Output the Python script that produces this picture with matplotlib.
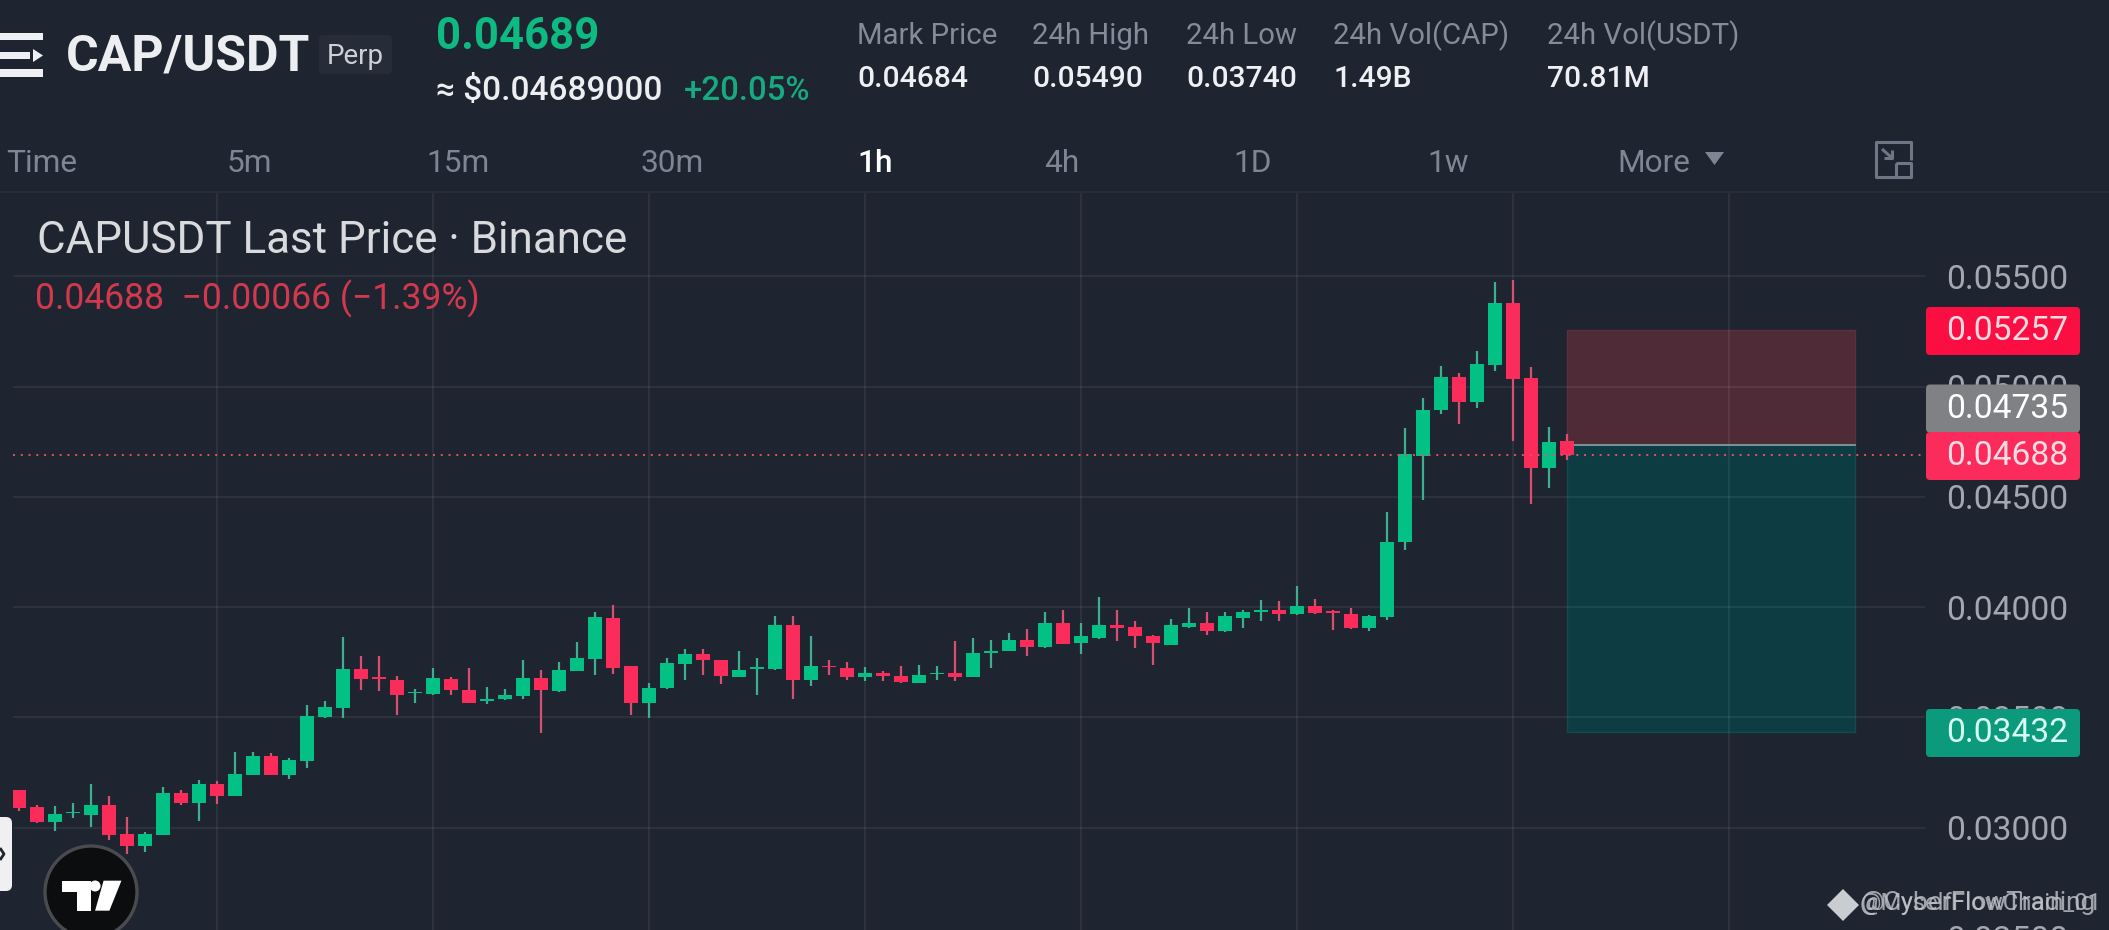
import matplotlib
matplotlib.use("Agg")
import matplotlib.pyplot as plt
from matplotlib.patches import FancyBboxPatch, Polygon, Circle, Rectangle
from matplotlib.lines import Line2D
from matplotlib.transforms import IdentityTransform

W, H = 2109, 930
BG = "#1e2430"
GREEN = "#03c084"
RED = "#fb2c59"
plt.rcParams["font.family"] = ["Roboto", "DejaVu Sans"]

opens = [
 0.03168,0.03095,0.03026,0.03065,0.03057,0.03103,0.02971,0.02918,0.02967,0.03156,
 0.03112,0.03198,0.03142,0.03240,0.03325,0.03239,0.03303,0.03502,0.03543,0.03720,
 0.03682,0.03670,0.03610,0.03605,0.03673,0.03625,0.03572,0.03581,0.03598,0.03678,
 0.03619,0.03711,0.03765,0.03950,0.03731,0.03566,0.03632,0.03744,0.03788,0.03761,
 0.03685,0.03719,0.03717,0.03921,0.03667,0.03735,0.03722,0.03681,0.03703,0.03688,
 0.03657,0.03696,0.03699,0.03682,0.03791,0.03800,0.03849,0.03821,0.03926,0.03835,
 0.03858,0.03921,0.03908,0.03871,0.03829,0.03911,0.03926,0.03893,0.03949,0.03976,
 0.03989,0.03967,0.04003,0.03982,0.03970,0.03903,0.03953,0.04294,0.04687,0.04894,
 0.05043,0.04930,0.05097,0.05378,0.05039,0.04633,0.04754]
closes = [
 0.03088,0.03023,0.03062,0.03071,0.03103,0.02967,0.02917,0.02971,0.03157,0.03110,
 0.03198,0.03144,0.03243,0.03325,0.03240,0.03307,0.03507,0.03548,0.03720,0.03676,
 0.03676,0.03599,0.03616,0.03679,0.03622,0.03567,0.03584,0.03601,0.03679,0.03622,
 0.03716,0.03769,0.03956,0.03725,0.03567,0.03634,0.03746,0.03788,0.03759,0.03687,
 0.03716,0.03726,0.03921,0.03669,0.03731,0.03729,0.03681,0.03703,0.03687,0.03658,
 0.03694,0.03702,0.03685,0.03794,0.03802,0.03849,0.03821,0.03926,0.03834,0.03867,
 0.03921,0.03903,0.03867,0.03835,0.03917,0.03926,0.03890,0.03958,0.03980,0.03989,
 0.03967,0.04003,0.03971,0.03973,0.03903,0.03958,0.04295,0.04695,0.04894,0.05043,
 0.04930,0.05102,0.05378,0.05036,0.04633,0.04749,0.04688]
highs = [
 0.03171,0.03103,0.03098,0.03110,0.03198,0.03144,0.03047,0.02979,0.03183,0.03168,
 0.03215,0.03209,0.03342,0.03342,0.03336,0.03315,0.03555,0.03575,0.03865,0.03779,
 0.03779,0.03688,0.03629,0.03723,0.03682,0.03725,0.03637,0.03629,0.03758,0.03716,
 0.03752,0.03843,0.03977,0.04011,0.03734,0.03655,0.03769,0.03809,0.03808,0.03762,
 0.03803,0.03767,0.03958,0.03958,0.03871,0.03762,0.03749,0.03726,0.03710,0.03735,
 0.03738,0.03731,0.03844,0.03861,0.03849,0.03884,0.03899,0.03976,0.03985,0.03929,
 0.04044,0.03989,0.03935,0.03874,0.03947,0.03998,0.03976,0.03980,0.03988,0.04033,
 0.04026,0.04098,0.04039,0.03989,0.03997,0.03962,0.04431,0.04811,0.04947,0.05093,
 0.05060,0.05161,0.05477,0.05482,0.05088,0.04817,0.04785]
lows = [
 0.03077,0.03020,0.02986,0.03044,0.03004,0.02944,0.02880,0.02889,0.02965,0.03104,
 0.03029,0.03107,0.03141,0.03239,0.03239,0.03221,0.03272,0.03498,0.03498,0.03625,
 0.03619,0.03510,0.03566,0.03599,0.03599,0.03564,0.03561,0.03579,0.03584,0.03428,
 0.03613,0.03708,0.03691,0.03697,0.03510,0.03498,0.03629,0.03670,0.03690,0.03649,
 0.03684,0.03599,0.03716,0.03581,0.03644,0.03690,0.03669,0.03663,0.03663,0.03657,
 0.03654,0.03669,0.03663,0.03681,0.03722,0.03799,0.03776,0.03814,0.03831,0.03785,
 0.03856,0.03844,0.03814,0.03738,0.03828,0.03903,0.03874,0.03887,0.03903,0.03939,
 0.03939,0.03965,0.03970,0.03897,0.03902,0.03891,0.03941,0.04258,0.04487,0.04876,
 0.04832,0.04905,0.05072,0.04754,0.04470,0.04541,0.04668]

price_ticks = [0.025, 0.030, 0.035, 0.040, 0.045, 0.050, 0.055]
time_grid = [11, 23, 35, 47, 59, 71, 83, 95]
last_price = 0.04688
stop_price = 0.05257
entry_price = 0.04735
target_price = 0.03432
box_start, box_end = 86, 102

stats_names = ["Mark Price", "24h High", "24h Low", "24h Vol(CAP)", "24h Vol(USDT)"]
stats_values = ["0.04684", "0.05490", "0.03740", "1.49B", "70.81M"]
tabs = ["Time", "5m", "15m", "30m", "1h", "4h", "1D", "1w", "More"]

fig = plt.figure(figsize=(W / 100, H / 100), dpi=100, facecolor=BG)
AL, AR, AT, AB = 13, 1925, 192, 950
ax = fig.add_axes([AL / W, 1 - AB / H, (AR - AL) / W, (AB - AT) / H], facecolor=BG)
PX_PER_PRICE = 22040.0
Y055 = 276.5
ax.set_ylim(0.055 - (AB - Y055) / PX_PER_PRICE, 0.055 + (Y055 - AT) / PX_PER_PRICE)
STEP = 18.0
ax.set_xlim((AL - 19.2) / STEP, (AR - 19.2) / STEP)
for s in ax.spines.values():
    s.set_visible(False)
ax.yaxis.tick_right()
ax.set_yticks(price_ticks)
ax.set_yticklabels([f"{p:.5f}" for p in price_ticks])
ax.set_xticks(time_grid)
ax.set_xticklabels([])
ax.tick_params(axis="both", length=0)
ax.tick_params(axis="y", pad=15, labelsize=24.2, labelcolor="#a4a7b0")
ax.grid(True, color="white", alpha=0.07, lw=1.3)
ax.set_axisbelow(False)

# Position boxes
ax.add_patch(Rectangle((box_start, entry_price), box_end - box_start, stop_price - entry_price,
                       fc="#4f2b38", ec="#5a303f", lw=1, zorder=1))
ax.add_patch(Rectangle((box_start, target_price), box_end - box_start, entry_price - target_price,
                       fc="#0d3d42", ec="#124a4d", lw=1, zorder=1))
ax.plot([box_start, box_end], [entry_price, entry_price], color="#7f9a9c", lw=1.3, zorder=2.6)

# Candles
idx = list(range(len(opens)))
col = [GREEN if c >= o else RED for o, c in zip(opens, closes)]
wick = ["#3fb08f" if c >= o else "#d84f70" for o, c in zip(opens, closes)]
ax.vlines(idx, lows, highs, colors=wick, lw=1.6, zorder=3)
heights = [max(abs(c - o), 0.00003) for o, c in zip(opens, closes)]
bottoms = [min(o, c) for o, c in zip(opens, closes)]
ax.bar(idx, heights, bottom=bottoms, width=0.79, color=col, lw=0, zorder=4)
ax.axhline(last_price, color="#e0526b", lw=1.4, ls=(0, (1, 3)), zorder=5)


def T(x, y, s, size, color, weight="normal", ha="left", va="center", **kw):
    return fig.text(x / W, 1 - y / H, s, fontsize=size, color=color, fontweight=weight,
                    ha=ha, va=va, **kw)


def R(x0, y0, x1, y1, color, r=0, z=2):
    if r:
        p = FancyBboxPatch((x0 + r, H - y1 + r), x1 - x0 - 2 * r, y1 - y0 - 2 * r,
                           boxstyle=f"round,pad={r},rounding_size={r}", fc=color, ec="none",
                           transform=IdentityTransform(), zorder=z)
    else:
        p = Rectangle((x0, H - y1), x1 - x0, y1 - y0, fc=color, ec="none",
                      transform=IdentityTransform(), zorder=z)
    fig.add_artist(p)


def P(points, color, z=3):
    fig.add_artist(Polygon([(x, H - y) for x, y in points], closed=True, fc=color, ec="none",
                           transform=IdentityTransform(), zorder=z))


def L(points, color, lw=2, z=3):
    fig.add_artist(Line2D([x for x, y in points], [H - y for x, y in points], color=color, lw=lw,
                          transform=IdentityTransform(), zorder=z, solid_capstyle="butt"))


# Header rule
L([(0, 192), (W, 192)], "#262c38", 1.5)

# Hamburger / logo
R(0, 33, 43, 40, "#eef0f3")
R(0, 52, 30, 59, "#eef0f3")
P([(33, 49), (43, 55.5), (33, 62)], "#eef0f3")
R(0, 69, 43, 77, "#eef0f3")

T(66, 57, "CAP/USDT", 36, "#eceef1", "bold")
R(319, 35, 392, 74, "#262d39", r=4)
T(355.5, 57, "Perp", 20, "#cdd0d6", ha="center")
T(436, 37, "0.04689", 31.5, "#0fb982", "bold")
T(436, 91, "≈ $0.04689000", 24, "#eceef1", "medium")
T(684, 91, "+20.05%", 23.7, "#17a97f", "medium")

for x, name, val in zip([857, 1032, 1186, 1333, 1547], stats_names, stats_values):
    T(x, 36, name, 21.2, "#858b99")
    T(x, 79, val, 21.6, "#eef0f3", "medium")

for x, tab in zip([6, 227, 426, 641, 857, 1044, 1233, 1427, 1617], tabs):
    active = tab == "1h"
    T(x, 163, tab, 22.8, "#ffffff" if active else "#7f8594", "medium" if active else "normal")
P([(1705, 152), (1724, 152), (1714.5, 165)], "#7f8594")
L([(1896, 177), (1876, 177), (1876, 142), (1911, 142), (1911, 160)], "#6f7685", 2.2)
L([(1896, 163), (1911, 163), (1911, 177), (1896, 177), (1896, 163)], "#6f7685", 2.2)
L([(1882, 149), (1892, 158)], "#6f7685", 2.2)
L([(1892, 150), (1892, 158), (1884, 158)], "#6f7685", 2.2)

# Legend text
T(37, 241, "CAPUSDT Last Price · Binance", 31.6, "#d9dadd")
T(35, 299, "0.04688  −0.00066 (−1.39%)", 25.6, "#d2384e")

# Price badges (over the axis labels)
badge_rows = [(331, 0.05257, "#fb0f42", "#f9dbe2"), (408.5, 0.04735, "#808184", "#ffffff"),
              (456, 0.04688, "#fb2c5b", "#fbdde4"), (733, 0.03432, "#0b9b7c", "#d6fbf3")]
for yc, val, c, tc in badge_rows:
    R(1926, yc - 24, 2080, yc + 24, c, r=4)
    T(1946, yc, f"{val:.5f}", 24.2, tc)

# TradingView logo
fig.add_artist(Circle((91, H - 892), 46, fc="#0c0d0f", ec="#4a4b4e", lw=2.4,
                      transform=IdentityTransform(), zorder=2))
s = 1 / 2.24
P([(140 * s, 600 + 842 / 3), (203 * s, 600 + 842 / 3), (203 * s, 600 + 932 / 3),
   (172 * s, 600 + 932 / 3), (172 * s, 600 + 875 / 3), (140 * s, 600 + 875 / 3)], "#ffffff")
P([(232 * s, 600 + 842 / 3), (272 * s, 600 + 842 / 3), (245 * s, 600 + 932 / 3),
   (213 * s, 600 + 932 / 3)], "#ffffff")
fig.add_artist(Circle((213 * s, H - (600 + 858 / 3)), 5.5, fc="#ffffff", ec="none",
                      transform=IdentityTransform(), zorder=3))

# Left side handle
R(-8, 817, 12, 891, "#f0f0f2", r=6)
L([(0, 848), (4, 854), (0, 860)], "#20242c", 2)

# Watermark
P([(1843, 889), (1859, 905), (1843, 921), (1827, 905)], "#c9ccd1")
T(1860, 903, "@CyberFlowTrading", 18.9, "#c2c5cb", alpha=0.8)
T(1860, 903, "@MyselfFlowChain_01", 17.2, "#c2c5cb", alpha=0.8)

fig.savefig("out.png", dpi=100, facecolor=BG)
